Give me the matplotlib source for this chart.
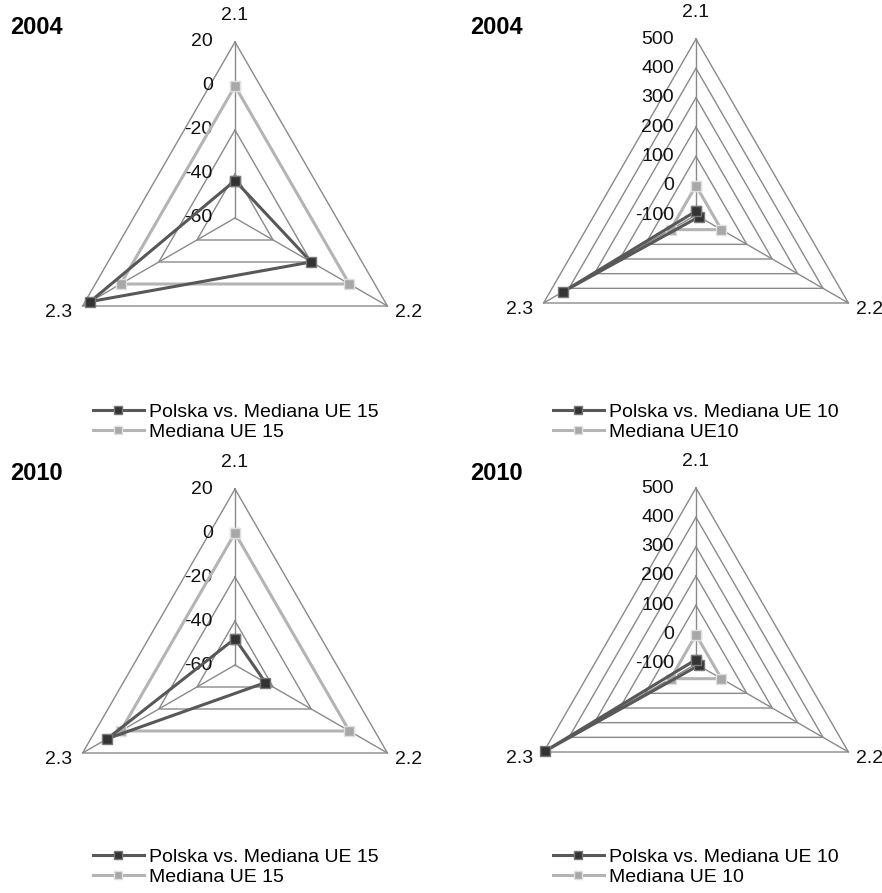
import numpy as np
import matplotlib
matplotlib.use('Agg')
import matplotlib.pyplot as plt

plt.rcParams['font.family'] = ['Liberation Sans', 'DejaVu Sans']

# axes / categories
categories = ['2.1', '2.2', '2.3']

# panel data
years = ['2004', '2004', '2010', '2010']
ticks_ue15 = [-60, -40, -20, 0, 20]
ticks_ue10 = [-100, 0, 100, 200, 300, 400, 500]

polska_ue15_2004 = [-43, -20, 16]
mediana_ue15_2004 = [0, 0, 0]
polska_ue10_2004 = [-87, -88, 425]
mediana_ue10_2004 = [0, 0, 0]
polska_ue15_2010 = [-48, -44, 7]
mediana_ue15_2010 = [0, 0, 0]
polska_ue10_2010 = [-85, -90, 495]
mediana_ue10_2010 = [0, 0, 0]

labels_polska = ['Polska vs. Mediana UE 15', 'Polska vs. Mediana UE 10',
                 'Polska vs. Mediana UE 15', 'Polska vs. Mediana UE 10']
labels_mediana = ['Mediana UE 15', 'Mediana UE10', 'Mediana UE 15', 'Mediana UE 10']

W, H = 882, 893
fig = plt.figure(figsize=(W / 100, H / 100), dpi=100)

# panel centres in pixels and circumradius
R = 176
centres = [(235, 218), (696, 215), (235, 665), (696, 664)]
titles_xy = [(10, 28), (470, 28), (10, 473), (470, 473)]
legend_xy = [(93, 403), (553, 403), (93, 848), (553, 848)]

panels = [
    (ticks_ue15, polska_ue15_2004, mediana_ue15_2004),
    (ticks_ue10, polska_ue10_2004, mediana_ue10_2004),
    (ticks_ue15, polska_ue15_2010, mediana_ue15_2010),
    (ticks_ue10, polska_ue10_2010, mediana_ue10_2010),
]

angles = np.deg2rad([0, 120, 240])
closed = np.append(angles, angles[0])

dark = '#585858'
light = '#b4b4b4'
grid_c = '#8a8a8a'

for i, (ticks, pol, med) in enumerate(panels):
    cx, cy = centres[i]
    ax = fig.add_axes([(cx - R) / W, 1 - (cy + R) / H, 2 * R / W, 2 * R / H],
                      projection='polar')
    ax.set_theta_zero_location('N')
    ax.set_theta_direction(-1)
    ax.set_ylim(ticks[0], ticks[-1])
    ax.grid(False)
    ax.set_xticks([])
    ax.set_yticks([])
    ax.spines['polar'].set_visible(False)
    ax.patch.set_alpha(0)

    # triangular grid rings and spokes
    for t in ticks[1:]:
        ax.plot(closed, [t] * 4, color=grid_c, lw=1.0, zorder=1, clip_on=False)
    for a in angles:
        ax.plot([a, a], [ticks[0], ticks[-1]], color=grid_c, lw=1.0, zorder=1,
                clip_on=False)

    # tick labels along the 2.1 axis
    for t in ticks:
        ax.annotate(str(t), (0, t), xytext=(-16, 0), textcoords='offset points',
                    ha='right', va='center', fontsize=14, color='#111111')

    # category labels
    offs = [(0, 19), (15, -5), (-17, -5)]
    for a, lab, off in zip(angles, categories, offs):
        ax.annotate(lab, (a, ticks[-1]), xytext=off, textcoords='offset points',
                    ha='center', va='center', fontsize=14, color='#111111')

    ax.plot(closed, med + med[:1], color=light, lw=2.2, marker='s', ms=7,
            mfc='#a8a8a8', mec='#e0e0e0', mew=1, zorder=3, clip_on=False,
            label=labels_mediana[i])
    ax.plot(closed, pol + pol[:1], color=dark, lw=2.2, marker='s', ms=7,
            mfc='#333333', mec='#777777', mew=1, zorder=4, clip_on=False,
            label=labels_polska[i])

    tx, ty = titles_xy[i]
    fig.text(tx / W, 1 - ty / H, years[i], fontsize=17, fontweight='bold',
             ha='left', va='center')

    h, l = ax.get_legend_handles_labels()
    lx, ly = legend_xy[i]
    fig.legend(h[::-1], l[::-1], loc='upper left',
               bbox_to_anchor=(lx / W, 1 - ly / H), frameon=False,
               fontsize=14, handlelength=2.6, handletextpad=0.3,
               labelspacing=0.15, borderpad=0, borderaxespad=0,
               markerscale=0.8)

fig.savefig('out.png', dpi=100, facecolor='white')
